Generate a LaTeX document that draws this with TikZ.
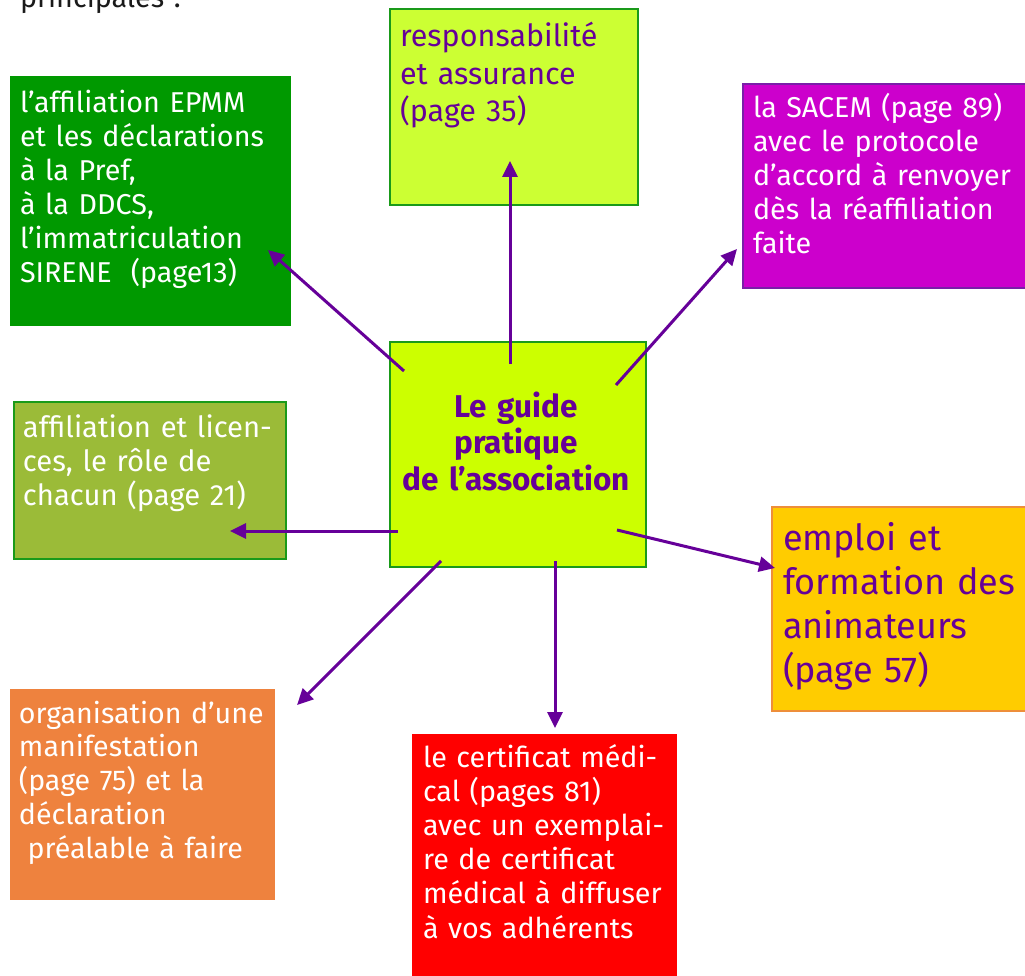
\documentclass[tikz,border=0pt]{standalone}
\usepackage{fontspec}
\setmainfont{Fira Sans}
\usetikzlibrary{arrows.meta}
\definecolor{purp}{HTML}{660099}
\definecolor{limec}{HTML}{CCFF00}
\definecolor{limet}{HTML}{CCFF33}
\definecolor{gbord}{HTML}{1A9A1A}
\definecolor{greenb}{HTML}{009900}
\definecolor{magb}{HTML}{CC00CC}
\definecolor{magbord}{HTML}{7A1FA8}
\definecolor{oliveb}{HTML}{9BBB38}
\definecolor{yellb}{HTML}{FFCC00}
\definecolor{yellbord}{HTML}{EE8E3A}
\definecolor{orangeb}{HTML}{EE823E}
\definecolor{redb}{HTML}{FF0000}
\definecolor{topt}{HTML}{1A1A1A}
\tikzset{
  box/.style={rectangle, inner sep=0pt, outer sep=0pt, anchor=north west},
  txt/.style={inner sep=0pt, outer sep=0pt, anchor=base west, text width=420pt, align=left,
     font=\fontsize{28.7}{34}\selectfont},
  arr/.style={purp, line width=3pt, -{Triangle[length=16pt,width=15pt]}}
}
\begin{document}
\begin{tikzpicture}[x=1pt,y=-1pt]
\useasboundingbox (0,0) rectangle (1025,976);
\clip (0,0) rectangle (1025,976);
\fill[white] (0,0) rectangle (1025,976);
% header fragment
\node[txt, text=topt] (head) at (20,8) {principales :};
% boxes
\node[box, fill=greenb, minimum width=281pt, minimum height=250pt] (bg) at (10,76) {};
\node[box, fill=limet, draw=gbord, line width=2pt, minimum width=248pt, minimum height=196pt] (bt) at (390,9) {};
\node[box, fill=magb, draw=magbord, line width=2pt, minimum width=300pt, minimum height=204pt] (bm) at (743,84) {};
\node[box, fill=oliveb, draw=gbord, line width=2pt, minimum width=272pt, minimum height=157pt] (bo) at (14,402) {};
\node[box, fill=limec, draw=gbord, line width=2.2pt, minimum width=256pt, minimum height=225pt] (bc) at (390,342) {};
\node[box, fill=yellb, draw=yellbord, line width=2pt, minimum width=270pt, minimum height=204pt] (by) at (772,507) {};
\node[box, fill=orangeb, minimum width=265pt, minimum height=211pt] (br) at (10,689) {};
\node[box, fill=redb, minimum width=265pt, minimum height=260pt] (bred) at (412,734) {};
% texts
\node[txt, text=white] (tg) at (20,113) {l’affiliation EPMM\\et les déclarations\\à la Pref,\\à la DDCS,\\l’immatriculation\\SIRENE\ \ (page13)};
\node[txt, text=purp, font=\fontsize{30.5}{37.5}\selectfont] (tt) at (400,47) {responsabilité\\et assurance\\(page 35)};
\node[txt, text=white] (tm) at (753,118) {la SACEM (page 89)\\avec le protocole\\d’accord à renvoyer\\dès la réaffiliation\\faite};
\node[txt, text=white, font=\fontsize{29.2}{34}\selectfont] (to) at (23,437) {affiliation et licen-\\ces, le rôle de\\chacun (page 21)};
\node[txt, text=purp, anchor=base, text width=256pt, align=center, font=\bfseries\fontsize{31.5}{36.5}\selectfont] (tc) at (516,417) {Le guide\\pratique\\de l’association};
\node[txt, text=purp, font=\fontsize{36}{44}\selectfont] (ty) at (783,550) {emploi et\\formation des\\animateurs\\(page 57)};
\node[txt, text=white, font=\fontsize{28.6}{33.75}\selectfont] (tr) at (19,723) {organisation d’une\\manifestation\\(page 75) et la\\déclaration\\\hspace*{0.3em}préalable à faire};
\node[txt, text=white, font=\fontsize{28.7}{34.2}\selectfont] (tred) at (423,767) {le certificat médi-\\cal (pages 81)\\avec un exemplai-\\re de certificat\\médical à diffuser\\à vos adhérents};
% arrow end points
\coordinate (s1) at (404,371); \coordinate (e1) at (268,250);
\coordinate (s2) at (510,364); \coordinate (e2) at (510,161);
\coordinate (s3) at (616,385); \coordinate (e3) at (737,249);
\coordinate (s4) at (398,531); \coordinate (e4) at (230,531);
\coordinate (s5) at (617,530); \coordinate (e5) at (775,568);
\coordinate (s6) at (441,561); \coordinate (e6) at (297,705);
\coordinate (s7) at (555,561); \coordinate (e7) at (555,728);
\draw[arr] (s1) -- (e1);
\draw[arr] (s2) -- (e2);
\draw[arr] (s3) -- (e3);
\draw[arr] (s4) -- (e4);
\draw[arr] (s5) -- (e5);
\draw[arr] (s6) -- (e6);
\draw[arr] (s7) -- (e7);
\end{tikzpicture}
\end{document}
